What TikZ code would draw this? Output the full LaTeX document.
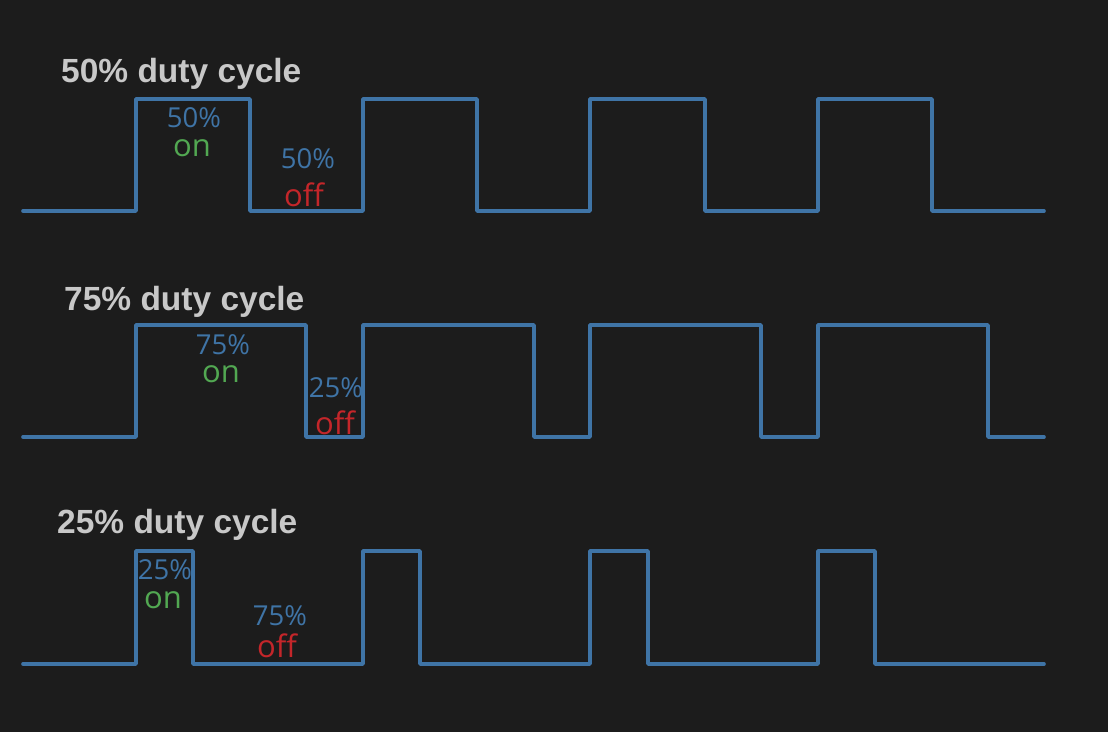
\documentclass[tikz,border=0pt]{standalone}
\usepackage{fontspec}
\setmainfont{Liberation Sans}
\newfontfamily\lblfont{Open Sans}
\definecolor{bg}{HTML}{1C1C1C}
\definecolor{wave}{HTML}{3F74A6}
\definecolor{ttl}{HTML}{C8C8C8}
\definecolor{ongreen}{HTML}{52A852}
\definecolor{offred}{HTML}{C4262A}
\tikzset{
  wavestyle/.style={draw=wave, line width=3.6pt, line join=round, line cap=round},
  titlestyle/.style={text=ttl, font=\fontsize{33.5}{33.5}\selectfont\bfseries, anchor=base west, inner sep=0pt},
  pctstyle/.style={text=wave, font=\lblfont\fontsize{27.5}{27.5}\selectfont, inner sep=0pt, anchor=base},
  onstyle/.style={text=ongreen, font=\lblfont\fontsize{31}{31}\selectfont, inner sep=0pt, anchor=base},
  offstyle/.style={text=offred, font=\lblfont\fontsize{31}{31}\selectfont, inner sep=0pt, anchor=base},
}
\begin{document}
\begin{tikzpicture}[x=1pt,y=-1pt]
\fill[bg] (0,0) rectangle (1108,732);
\useasboundingbox (0,0) rectangle (1108,732);
% row 1: 50%
\draw[wavestyle] (23,211) -- (136,211) -- (136,99) -- (250,99) -- (250,211) -- (363,211) -- (363,99) -- (477,99) -- (477,211) -- (590,211) -- (590,99) -- (705,99) -- (705,211) -- (818,211) -- (818,99) -- (932,99) -- (932,211) -- (1044,211);
% row 2: 75%
\draw[wavestyle] (23,437) -- (136,437) -- (136,325) -- (306,325) -- (306,437) -- (363,437) -- (363,325) -- (534,325) -- (534,437) -- (590,437) -- (590,325) -- (761,325) -- (761,437) -- (818,437) -- (818,325) -- (988,325) -- (988,437) -- (1044,437);
% row 3: 25%
\draw[wavestyle] (23,664) -- (136,664) -- (136,551) -- (193,551) -- (193,664) -- (363,664) -- (363,551) -- (420,551) -- (420,664) -- (590,664) -- (590,551) -- (648,551) -- (648,664) -- (818,664) -- (818,551) -- (875,551) -- (875,664) -- (1044,664);
% titles
\node[titlestyle] (t1) at (61,82) {50\% duty cycle};
\node[titlestyle] (t2) at (64,310) {75\% duty cycle};
\node[titlestyle] (t3) at (57,533) {25\% duty cycle};
% row 1 labels
\node[pctstyle] (p1a) at (194,127) {50\%};
\node[onstyle] (on1) at (192,156) {on};
\node[pctstyle] (p1b) at (308,168) {50\%};
\node[offstyle] (off1) at (304,206) {off};
% row 2 labels
\node[pctstyle] (p2a) at (223,354) {75\%};
\node[onstyle] (on2) at (221,382) {on};
\node[pctstyle] (p2b) at (336,397) {25\%};
\node[offstyle] (off2) at (335,434) {off};
% row 3 labels
\node[pctstyle] (p3a) at (165,579) {25\%};
\node[onstyle] (on3) at (163,608) {on};
\node[pctstyle] (p3b) at (280,625) {75\%};
\node[offstyle] (off3) at (277,657) {off};
\end{tikzpicture}
\end{document}
